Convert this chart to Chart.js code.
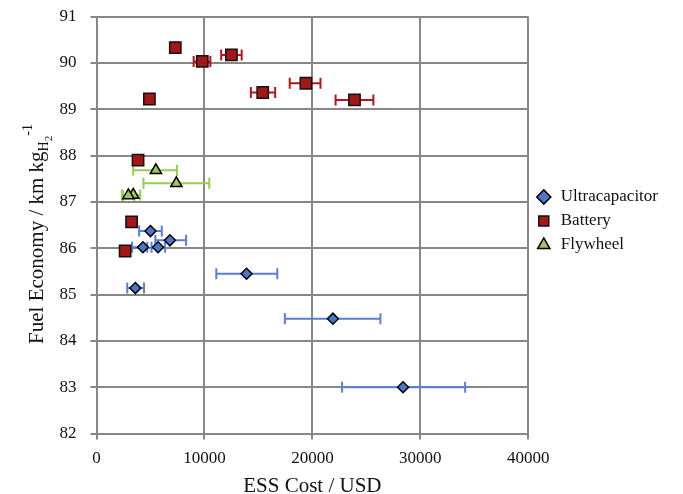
<!DOCTYPE html>
<html>
<head>
<meta charset="utf-8">
<script src="https://cdn.jsdelivr.net/npm/chart.js@4"></script>
<style>
  html, body { margin: 0; padding: 0; background: #fff; }
  #wrap { width: 683px; height: 494px; }
</style>
</head>
<body>
<div id="wrap"><canvas id="essChart" width="683" height="494"></canvas></div>
<script>
// ESS cost (USD) vs fuel economy, with cost ranges as horizontal error bars
const ultraCost = [28400, 21900, 13900, 3600, 5000, 6800, 4300, 5700];
const ultraFE   = [83.0, 84.48, 85.45, 85.14, 86.37, 86.17, 86.02, 86.02];
const ultraLo   = [22750, 17450, 11100, 2850, 3950, 5450, 3300, 5100];
const ultraHi   = [34150, 26300, 16750, 4400, 6050, 8300, 4700, 6350];

const battCost = [7300, 9800, 12500, 4900, 15400, 19400, 23900, 3850, 3250, 2650];
const battFE   = [90.33, 90.03, 90.17, 89.22, 89.36, 89.56, 89.2, 87.9, 86.57, 85.94];
const battLo   = [7300, 9000, 11550, 4900, 14300, 17900, 22150, 3850, 3250, 2650];
const battHi   = [7300, 10550, 13450, 4900, 16550, 20750, 25650, 3850, 3250, 2650];

const flyCost = [5500, 7400, 3400, 2950];
const flyFE   = [87.68, 87.4, 87.15, 87.14];
const flyLo   = [3400, 4350, 2350, 2450];
const flyHi   = [7450, 10450, 4050, 3500];

const xTicks = [0, 10000, 20000, 30000, 40000];
const yTicks = [82, 83, 84, 85, 86, 87, 88, 89, 90, 91];

const SERIF = "'Liberation Serif', 'Times New Roman', serif";

function toPoints(xs, ys) {
  return xs.map((x, i) => ({ x: x, y: ys[i] }));
}

const errorBars = {
  id: "errorBars",
  beforeDatasetsDraw(chart) {
    const ctx = chart.ctx;
    const xs = chart.scales.x;
    const ys = chart.scales.y;
    chart.data.datasets.forEach(ds => {
      ctx.save();
      ctx.strokeStyle = ds.errColor;
      ctx.lineWidth = 2;
      ds.lo.forEach((lo, i) => {
        const hi = ds.hi[i];
        if (hi - lo < 1) return;
        const y = ys.getPixelForValue(ds.data[i].y);
        const x1 = xs.getPixelForValue(lo);
        const x2 = xs.getPixelForValue(hi);
        ctx.beginPath();
        ctx.moveTo(x1, y); ctx.lineTo(x2, y);
        ctx.moveTo(x1, y - 5.5); ctx.lineTo(x1, y + 5.5);
        ctx.moveTo(x2, y - 5.5); ctx.lineTo(x2, y + 5.5);
        ctx.stroke();
      });
      ctx.restore();
    });
  }
};

// y title with subscript H2 and superscript -1
const yTitle = {
  id: "yTitle",
  afterDraw(chart) {
    const ctx = chart.ctx;
    const big = "21px " + SERIF;
    const small = "14px " + SERIF;
    const tiny = "11px " + SERIF;
    ctx.save();
    ctx.fillStyle = "#111";
    ctx.textBaseline = "alphabetic";
    ctx.textAlign = "left";
    ctx.font = big;
    const main = "Fuel Economy / km kg";
    const wMain = ctx.measureText(main).width;
    ctx.font = small;
    const wH = ctx.measureText("H").width;
    const wSup = ctx.measureText("-1").width;
    ctx.font = tiny;
    const w2 = ctx.measureText("2").width;
    const total = wMain + wH + w2 + wSup;
    ctx.translate(43, 234);
    ctx.rotate(-Math.PI / 2);
    let x = -total / 2;
    ctx.font = big;
    ctx.fillText(main, x, 0);
    x += wMain;
    ctx.font = small;
    ctx.fillText("H", x, 5);
    x += wH;
    ctx.font = tiny;
    ctx.fillText("2", x, 9);
    x += w2;
    ctx.font = small;
    ctx.fillText("-1", x, -11);
    ctx.restore();
  }
};

new Chart(document.getElementById("essChart"), {
  type: "scatter",
  data: {
    datasets: [
      {
        label: "Ultracapacitor",
        data: toPoints(ultraCost, ultraFE),
        lo: ultraLo, hi: ultraHi,
        errColor: "#5a7fd6",
        pointStyle: "rectRot",
        pointRadius: 5.5,
        pointHoverRadius: 5.5,
        backgroundColor: "#4a78c8",
        borderColor: "#000",
        borderWidth: 1.5
      },
      {
        label: "Battery",
        data: toPoints(battCost, battFE),
        lo: battLo, hi: battHi,
        errColor: "#b4161e",
        pointStyle: "rect",
        pointRadius: 8,
        pointHoverRadius: 8,
        backgroundColor: "#a51616",
        borderColor: "#111",
        borderWidth: 1.5
      },
      {
        label: "Flywheel",
        data: toPoints(flyCost, flyFE),
        lo: flyLo, hi: flyHi,
        errColor: "#92d050",
        pointStyle: "triangle",
        pointRadius: 6.5,
        pointHoverRadius: 6.5,
        backgroundColor: "#a6c35a",
        borderColor: "#000",
        borderWidth: 1.5
      }
    ]
  },
  options: {
    responsive: false,
    animation: false,
    layout: { padding: { left: 55.5, top: 16.5, right: 15, bottom: -3 } },
    plugins: {
      tooltip: { enabled: false },
      legend: {
        position: "right",
        align: "start",
        title: {
          display: true,
          text: " ",
          font: { size: 10 },
          padding: { top: 153, bottom: 0 }
        },
        labels: {
          usePointStyle: true,
          boxWidth: 17,
          boxHeight: 10,
          padding: 7,
          color: "#111",
          font: { family: SERIF, size: 17 }
        }
      }
    },
    scales: {
      x: {
        type: "linear",
        min: 0,
        max: 40000,
        afterBuildTicks(axis) { axis.ticks = xTicks.map(v => ({ value: v })); },
        ticks: {
          color: "#111",
          padding: 8.5,
          font: { family: SERIF, size: 17 },
          callback: v => String(v)
        },
        grid: { color: "#878787", lineWidth: 2, tickLength: 6 },
        border: { color: "#878787", width: 2 }
        ,
        title: {
          display: true,
          text: "ESS Cost / USD",
          color: "#111",
          padding: { top: -1, bottom: 0 },
          font: { family: SERIF, size: 21, lineHeight: 1 }
        }
      },
      y: {
        type: "linear",
        min: 82,
        max: 91,
        afterBuildTicks(axis) { axis.ticks = yTicks.map(v => ({ value: v })); },
        ticks: {
          color: "#111",
          padding: 4,
          font: { family: SERIF, size: 17 }
        },
        grid: {
          color: "#878787",
          lineWidth: 2,
          tickLength: 16,
          tickBorderDash: [6, 30],
          tickBorderDashOffset: 26
        },
        border: { color: "#878787", width: 2 }
      }
    }
  },
  plugins: [errorBars, yTitle]
});
</script>
</body>
</html>
